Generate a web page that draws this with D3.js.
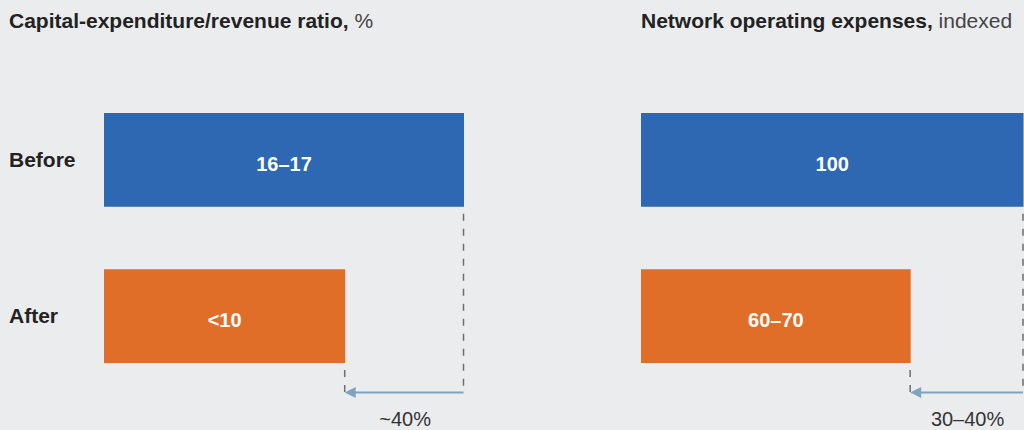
<!DOCTYPE html>
<html>
<head>
<meta charset="utf-8">
<script src="https://cdn.jsdelivr.net/npm/d3@7/dist/d3.min.js"></script>
<style>
  html, body { margin: 0; padding: 0; background: #ebecee; }
  svg { display: block; }
  text { font-family: "Liberation Sans", Arial, Helvetica, sans-serif; }
</style>
</head>
<body>
<svg id="chart" width="1024" height="430"></svg>
<script>
// ---- data ----
const categories = ["Before", "After"];
const panelTitles = ["Capital-expenditure/revenue ratio,", "Network operating expenses,"];
const panelUnits = ["%", "indexed"];
const capexIndex = [100, 67];          // relative bar lengths (Before = 100)
const opexIndex = [100, 70.5];
const capexLabels = ["16–17", "<10"];
const opexLabels = ["100", "60–70"];
const changeLabels = ["~40%", "30–40%"];

// ---- layout ----
const W = 1024, H = 430;
const svg = d3.select("#chart");
svg.append("rect").attr("width", W).attr("height", H).attr("fill", "#ebecee");

const colors = ["#2e67b2", "#e06e28"];
const y = d3.scaleBand().domain(categories).range([113, 363]).paddingInner(0.4).paddingOuter(0);
const arrowY = 392.5;

const panels = [
  { title: panelTitles[0], unit: panelUnits[0], values: capexIndex, labels: capexLabels, change: changeLabels[0],
    titleX: 9, x: d3.scaleLinear().domain([0, 100]).range([104, 464]) },
  { title: panelTitles[1], unit: panelUnits[1], values: opexIndex, labels: opexLabels, change: changeLabels[1],
    titleX: 641, x: d3.scaleLinear().domain([0, 100]).range([641, 1023.5]) }
];

// category labels
svg.selectAll("text.cat").data(categories).join("text")
  .attr("class", "cat")
  .attr("x", 9)
  .attr("y", d => y(d) + y.bandwidth() / 2 + 7)
  .attr("font-size", 21).attr("font-weight", "bold").attr("fill", "#222")
  .text(d => d);

panels.forEach(p => {
  const g = svg.append("g");
  const t = g.append("text").attr("x", p.titleX).attr("y", 28).attr("font-size", 21).attr("fill", "#222");
  t.append("tspan").attr("font-weight", "bold").text(p.title);
  t.append("tspan").attr("fill", "#444").text(" " + p.unit);

  const x = p.x;
  g.selectAll("rect.bar").data(categories).join("rect")
    .attr("class", "bar")
    .attr("x", x(0))
    .attr("y", d => y(d))
    .attr("width", (d, i) => x(p.values[i]) - x(0))
    .attr("height", y.bandwidth())
    .attr("fill", (d, i) => colors[i]);

  g.selectAll("text.val").data(categories).join("text")
    .attr("class", "val")
    .attr("x", (d, i) => (x(0) + x(p.values[i])) / 2)
    .attr("y", d => y(d) + y.bandwidth() / 2 + 11)
    .attr("text-anchor", "middle")
    .attr("font-size", 20).attr("font-weight", "bold").attr("fill", "#fff")
    .text((d, i) => p.labels[i]);

  // dashed connectors
  g.selectAll("line.dash").data(categories).join("line")
    .attr("class", "dash")
    .attr("x1", (d, i) => x(p.values[i]) - 0.5)
    .attr("x2", (d, i) => x(p.values[i]) - 0.5)
    .attr("y1", d => y(d) + y.bandwidth() + 7)
    .attr("y2", arrowY)
    .attr("stroke", "#6e6e6e").attr("stroke-width", 1.5)
    .attr("stroke-dasharray", "7,8");

  const xEnd = x(p.values[0]) - 0.5;
  const xTip = x(p.values[1]) - 0.5;
  g.append("line")
    .attr("x1", xEnd).attr("x2", xTip + 8)
    .attr("y1", arrowY).attr("y2", arrowY)
    .attr("stroke", "#7fa3bf").attr("stroke-width", 2);
  g.append("path")
    .attr("d", `M${xTip},${arrowY} L${xTip + 11},${arrowY - 5.5} L${xTip + 11},${arrowY + 5.5} Z`)
    .attr("fill", "#7fa3bf");

  g.append("text")
    .attr("x", (xEnd + xTip) / 2 + 1)
    .attr("y", 426)
    .attr("text-anchor", "middle")
    .attr("font-size", 20).attr("fill", "#333")
    .text(p.change);
});
</script>
</body>
</html>
